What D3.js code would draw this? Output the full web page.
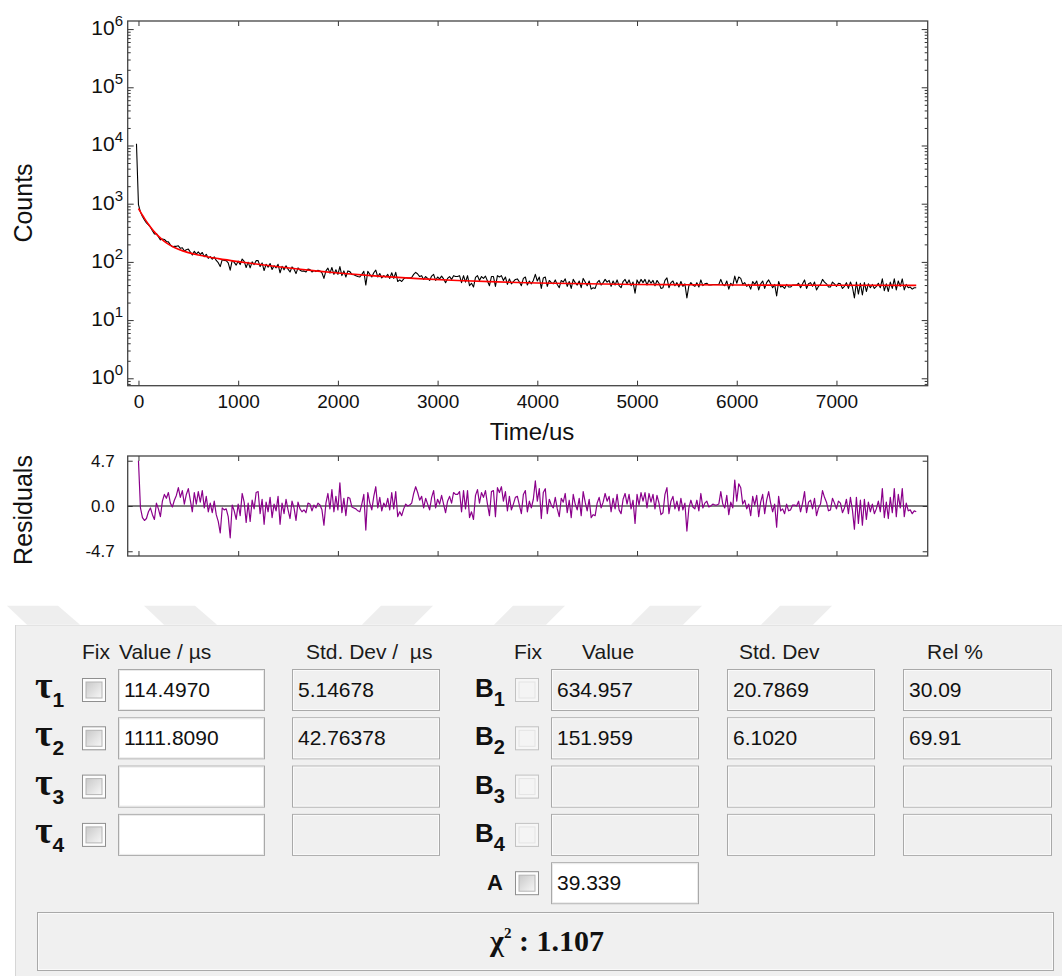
<!DOCTYPE html>
<html>
<head>
<meta charset="utf-8">
<script src="https://cdn.jsdelivr.net/npm/d3@7"></script>
<style>
  body { margin: 0; background: #fff; }
  svg { display: block; font-family: "Liberation Sans", Arial, sans-serif; }
</style>
</head>
<body>
<svg id="chart" width="1062" height="976"></svg>
<script>
// ---- Decay trace: one count value per 20 us channel, first channel at -20 us ----
const channelStart = -20;
const channelWidth = 20;
const counts = [10700,
  961,716,603,524,467,431,394,343,303,306,
  272,239,248,243,224,221,196,182,185,185,
  189,171,175,154,162,166,148,131,152,136,
  149,134,145,123,135,115,123,111,122,106,
  97,83,109,106,105,96,72,106,98,88,
  103,90,112,102,80,99,79,100,90,105,
  105,83,96,71,91,81,94,74,86,79,
  91,65,84,73,86,75,67,82,75,63,
  79,72,69,70,67,75,74,67,71,68,
  72,70,65,52,70,78,64,80,61,73,
  61,83,58,70,55,70,68,61,60,58,
  56,55,61,69,40,69,61,55,65,72,
  55,63,53,58,55,61,52,65,52,66,
  46,49,46,51,54,53,53,54,61,66,
  62,56,58,50,56,52,48,57,61,48,
  55,51,57,51,44,52,56,50,58,56,
  56,58,44,58,45,58,39,43,37,54,
  58,48,56,52,57,47,39,56,56,38,
  58,55,58,48,55,41,51,42,46,50,
  51,45,39,52,55,40,47,42,48,61,
  47,55,35,53,55,38,48,44,42,49,
  41,36,48,45,51,38,46,35,50,44,
  40,47,36,52,45,39,47,34,36,35,
  44,48,40,44,50,45,48,38,47,40,
  49,39,36,46,50,42,49,39,45,29,
  49,42,50,44,50,40,49,43,48,39,
  48,43,35,36,48,53,36,44,47,39,
  44,37,46,38,42,24,39,44,40,38,
  44,37,49,39,42,43,40,40,41,41,
  41,41,50,41,39,47,34,43,39,57,
  43,55,52,41,44,38,41,34,46,41,
  47,33,42,47,35,44,49,42,36,41,
  26,46,37,38,35,41,37,37,40,40,
  40,43,36,42,49,35,42,44,38,45,
  33,38,41,50,45,42,37,37,45,42,
  38,43,42,35,38,44,35,45,37,24,
  45,28,43,27,44,31,42,36,41,35,
  38,43,36,51,32,42,31,45,35,51,
  33,47,38,51,33,41,36,37,34,36,
  36];

// ---- Fitted decay (red curve), sampled along the time axis ----
const fitTimes  = [0,20,40,60,80,100,120,140,160,180,200,240,280,320,360,400,500,600,700,800,
                   1000,1200,1400,1600,1800,2000,2400,2800,3200,3600,4000,4500,5000,5500,6000,7000,7800];
const fitCounts = [826.3,721.8,633.6,559.2,496.5,443.3,398.4,360.2,328.0,300.4,276.9,239.8,212.5,192.1,176.6,164.7,144.3,131.3,121.7,113.9,
                   101.2,91.0,82.5,75.4,69.4,64.5,56.9,51.6,47.9,45.3,43.5,42.0,41.0,40.4,40.0,39.6,39.5];

// ---- Weighted residuals, one per channel from 0 us ----
const residualStart = 0;
const residuals = [
  4.7,-0.2,-1.2,-1.5,-1.3,-0.6,-0.2,-0.9,-1.4,0.3,
  -0.3,-1.1,0.5,1.2,0.8,1.4,0.3,-0.1,0.6,1.1,
  1.9,0.9,1.6,0.2,1.2,1.8,0.6,-0.6,1.4,0.2,
  1.5,0.4,1.6,-0.2,1.0,-0.6,0.3,-0.7,0.5,-0.9,
  -1.6,-2.8,-0.2,-0.4,-0.3,-1.1,-3.3,0.1,-0.5,-1.4,
  0.2,-1.0,1.3,0.4,-1.7,0.3,-1.6,0.6,-0.3,1.4,
  1.5,-0.8,0.7,-1.9,0.4,-0.6,0.9,-1.2,0.2,-0.5,
  1.0,-1.9,0.3,-0.8,0.7,-0.4,-1.3,0.5,-0.2,-1.5,
  0.4,-0.3,-0.6,-0.4,-0.7,0.3,0.2,-0.5,0.1,-0.2,
  0.3,0.1,-0.4,-2.0,0.3,1.3,-0.3,1.7,-0.6,1.0,
  -0.4,2.4,-0.7,0.8,-1.0,0.9,0.8,-0.1,-0.2,-0.3,
  -0.5,-0.6,0.2,1.2,-2.5,1.4,0.3,-0.4,1.0,2.0,
  -0.2,0.9,-0.5,0.3,-0.1,0.8,-0.4,1.4,-0.3,1.5,
  -1.1,-0.6,-1.0,-0.3,0.2,0.0,0.1,0.3,1.3,2.0,
  1.4,0.6,1.0,-0.2,0.8,0.2,-0.4,0.9,1.6,-0.2,
  0.7,0.2,1.1,0.2,-0.7,0.5,1.0,0.3,1.4,1.2,
  1.2,1.5,-0.6,1.6,-0.3,1.6,-1.2,-0.6,-1.4,1.1,
  1.7,0.3,1.4,0.9,1.6,0.2,-1.0,1.5,1.6,-1.1,
  1.9,1.4,2.0,0.5,1.5,-0.5,1.0,-0.4,0.2,0.9,
  1.0,0.1,-0.8,1.2,1.6,-0.6,0.5,-0.2,0.7,2.6,
  0.5,1.8,-1.3,1.4,1.8,-0.8,0.7,0.1,-0.2,0.9,
  -0.3,-1.1,0.8,0.4,1.3,-0.7,0.6,-1.2,1.2,0.2,
  -0.4,0.8,-1.0,1.5,0.4,-0.5,0.7,-1.2,-0.9,-1.0,
  0.3,0.9,-0.2,0.4,1.3,0.5,1.0,-0.6,0.8,-0.3,
  1.2,-0.4,-0.8,0.7,1.3,0.2,1.2,-0.3,0.6,-1.8,
  1.2,0.1,1.4,0.5,1.4,-0.2,1.3,0.4,1.2,-0.3,
  1.1,0.3,-0.9,-0.7,1.2,1.9,-0.8,0.5,1.0,-0.3,
  0.5,-0.5,0.8,-0.4,0.3,-2.6,-0.2,0.6,-0.1,-0.3,
  0.6,-0.5,1.3,-0.2,0.3,0.5,-0.1,0.0,0.2,0.1,
  0.1,0.2,1.5,0.2,-0.2,1.1,-0.9,0.4,-0.2,2.7,
  0.5,2.3,1.9,0.2,0.6,-0.3,0.2,-1.0,1.0,0.1,
  1.1,-1.1,0.4,1.2,-0.8,0.6,1.5,0.3,-0.6,0.2,
  -2.2,1.0,-0.5,-0.3,-0.8,0.2,-0.5,-0.4,0.1,0.1,
  0.0,0.5,-0.6,0.3,1.5,-0.7,0.4,0.6,-0.3,0.8,
  -1.0,-0.2,0.2,1.6,0.9,0.4,-0.5,-0.4,0.8,0.3,
  -0.3,0.5,0.3,-0.7,-0.2,0.7,-0.8,0.9,-0.4,-2.4,
  0.9,-1.8,0.6,-2.0,0.7,-1.4,0.4,-0.6,0.2,-0.8,
  -0.3,0.5,-0.6,1.8,-1.2,0.4,-1.3,0.9,-0.7,1.8,
  -1.1,1.2,-0.2,1.8,-1.1,0.3,-0.5,-0.4,-0.8,-0.5,
  -0.6];

// ---- Axis ticks ----
const xTicks = [0,1000,2000,3000,4000,5000,6000,7000];
const yDecades = [0,1,2,3,4,5,6];
const residualTicks = [-4.7, 0, 4.7];

// ---- Fit parameter table ----
const tauIndex   = ["1","2","3","4"];
const tauValues  = ["114.4970","1111.8090","",""];
const tauStdDev  = ["5.14678","42.76378","",""];
const ampValues  = ["634.957","151.959","",""];
const ampStdDev  = ["20.7869","6.1020","",""];
const relPercent = ["30.09","69.91","",""];
const offsetA    = "39.339";
const chiSquare  = "1.107";

// ================= layout =================
const svg = d3.select("#chart");
const plot  = { left: 127.7, right: 927.7, top: 21, bottom: 385.7 };
const resid = { top: 456, bottom: 556 };

const x  = d3.scaleLinear().domain([-108, 7915]).range([plot.left, plot.right]);
const y  = d3.scaleLog().domain([0.746, 1.377e6]).range([plot.bottom, plot.top]);
const yr = d3.scaleLinear().domain([-5.19, 5.19]).range([resid.bottom, resid.top]);

const majorY = yDecades.map(p => Math.pow(10, p));
const minorY = [];
for (let p = -1; p < 6; p++) {
  for (let m = 2; m <= 9; m++) {
    const v = m * Math.pow(10, p);
    if (v >= y.domain()[0] && v <= y.domain()[1]) minorY.push(v);
  }
}

function tidy(g) {
  g.select(".domain").remove();
  g.selectAll(".tick line").attr("stroke", "#333").attr("stroke-width", 1);
}

const defs = svg.append("defs");
defs.append("clipPath").attr("id", "clipTop")
  .append("rect").attr("x", plot.left).attr("y", plot.top)
  .attr("width", plot.right - plot.left).attr("height", plot.bottom - plot.top);
defs.append("clipPath").attr("id", "clipRes")
  .append("rect").attr("x", plot.left).attr("y", resid.top)
  .attr("width", plot.right - plot.left).attr("height", resid.bottom - resid.top);

// ---------- decay panel ----------
const decay = svg.append("g");

const countLine = d3.line()
  .x((d, i) => x(channelStart + i * channelWidth))
  .y(d => y(d));
decay.append("path").datum(counts)
  .attr("clip-path", "url(#clipTop)")
  .attr("d", countLine).attr("fill", "none")
  .attr("stroke", "#000").attr("stroke-width", 1.1).attr("stroke-linejoin", "round");

const fitLine = d3.line().curve(d3.curveMonotoneX)
  .x((d, i) => x(fitTimes[i]))
  .y(d => y(d));
decay.append("path").datum(fitCounts)
  .attr("clip-path", "url(#clipTop)")
  .attr("d", fitLine).attr("fill", "none")
  .attr("stroke", "#ff0000").attr("stroke-width", 1.6);

// ticks (all pointing inward)
decay.append("g").attr("transform", `translate(${plot.left},0)`)
  .call(d3.axisLeft(y).tickValues(majorY).tickSize(-6).tickFormat("")).call(tidy);
decay.append("g").attr("transform", `translate(${plot.left},0)`)
  .call(d3.axisLeft(y).tickValues(minorY).tickSize(-3).tickFormat("")).call(tidy);
decay.append("g").attr("transform", `translate(${plot.right},0)`)
  .call(d3.axisRight(y).tickValues(majorY).tickSize(-6).tickFormat("")).call(tidy);
decay.append("g").attr("transform", `translate(${plot.right},0)`)
  .call(d3.axisRight(y).tickValues(minorY).tickSize(-3).tickFormat("")).call(tidy);
decay.append("g").attr("transform", `translate(0,${plot.top})`)
  .call(d3.axisTop(x).tickValues(xTicks).tickSize(-5).tickFormat("")).call(tidy);
const xAxis = decay.append("g").attr("transform", `translate(0,${plot.bottom})`)
  .call(d3.axisBottom(x).tickValues(xTicks).tickSize(-5).tickPadding(9).tickFormat(d3.format("d")))
  .call(tidy);
xAxis.selectAll("text").attr("font-size", 19).attr("fill", "#111")
  .attr("font-family", "'Liberation Sans', Arial, sans-serif");

// frame
decay.append("rect").attr("x", plot.left).attr("y", plot.top)
  .attr("width", plot.right - plot.left).attr("height", plot.bottom - plot.top)
  .attr("fill", "none").attr("stroke", "#444").attr("stroke-width", 1.3);

// decade labels 10^n
const yLab = decay.append("g").attr("font-size", 21).attr("fill", "#111");
majorY.forEach((v, i) => {
  const t = yLab.append("text").attr("x", 123).attr("y", y(v) + 6).attr("text-anchor", "end");
  t.append("tspan").text("10");
  t.append("tspan").attr("font-size", 15).attr("dy", -9).text(String(yDecades[i]));
});

svg.append("text").attr("transform", "translate(32,203) rotate(-90)")
  .attr("text-anchor", "middle").attr("font-size", 25).attr("fill", "#111").text("Counts");
svg.append("text").attr("x", 532).attr("y", 440)
  .attr("text-anchor", "middle").attr("font-size", 24).attr("fill", "#111").text("Time/us");

// ---------- residual panel ----------
const rp = svg.append("g");
rp.append("line").attr("x1", plot.left).attr("x2", plot.right)
  .attr("y1", yr(0)).attr("y2", yr(0)).attr("stroke", "#000").attr("stroke-width", 1.1);

const residLine = d3.line()
  .x((d, i) => x(residualStart + i * channelWidth))
  .y(d => yr(d));
rp.append("path").datum(residuals)
  .attr("clip-path", "url(#clipRes)")
  .attr("d", residLine).attr("fill", "none")
  .attr("stroke", "#8b008b").attr("stroke-width", 1.2).attr("stroke-linejoin", "round");

const rAxis = rp.append("g").attr("transform", `translate(${plot.left},0)`)
  .call(d3.axisLeft(yr).tickValues(residualTicks).tickSize(-5).tickPadding(13)
    .tickFormat(d => d.toFixed(1)))
  .call(tidy);
rAxis.selectAll("text").attr("font-size", 17).attr("fill", "#111")
  .attr("font-family", "'Liberation Sans', Arial, sans-serif");
rp.append("g").attr("transform", `translate(${plot.right},0)`)
  .call(d3.axisRight(yr).tickValues(residualTicks).tickSize(-5).tickFormat("")).call(tidy);
rp.append("g").attr("transform", `translate(0,${resid.top})`)
  .call(d3.axisTop(x).tickValues(xTicks).tickSize(-5).tickFormat("")).call(tidy);
rp.append("g").attr("transform", `translate(0,${resid.bottom})`)
  .call(d3.axisBottom(x).tickValues(xTicks).tickSize(-5).tickFormat("")).call(tidy);
rp.append("rect").attr("x", plot.left).attr("y", resid.top)
  .attr("width", plot.right - plot.left).attr("height", resid.bottom - resid.top)
  .attr("fill", "none").attr("stroke", "#444").attr("stroke-width", 1.3);

svg.append("text").attr("transform", "translate(32,510) rotate(-90)")
  .attr("text-anchor", "middle").attr("font-size", 25).attr("fill", "#111").text("Residuals");

// ---------- fit parameter panel ----------
const tb = svg.append("g");

// faint chevron band above the panel
const bandTop = 605.7, bandBottom = 624.7;
[7, 144].forEach(x0 => {
  tb.append("polygon").attr("fill", "#eeeeee")
    .attr("points", [[x0, bandTop], [x0 + 51, bandTop], [x0 + 73, bandBottom], [x0 + 20, bandBottom]].join(" "));
});
[381, 513, 650, 780].forEach(x0 => {
  tb.append("polygon").attr("fill", "#eeeeee")
    .attr("points", [[x0, bandTop], [x0 + 52, bandTop], [x0 + 33, bandBottom], [x0 - 19, bandBottom]].join(" "));
});

tb.append("rect").attr("x", 15).attr("y", 625).attr("width", 1047).attr("height", 351).attr("fill", "#f0f0f0");
tb.append("line").attr("x1", 15).attr("x2", 1062).attr("y1", 625.5).attr("y2", 625.5).attr("stroke", "#e3e3e3");
tb.append("line").attr("x1", 15.5).attr("x2", 15.5).attr("y1", 625).attr("y2", 976).attr("stroke", "#d6d6d6");

const grad = defs.append("linearGradient").attr("id", "chk")
  .attr("x1", 0).attr("y1", 0).attr("x2", 1).attr("y2", 1);
grad.append("stop").attr("offset", "0%").attr("stop-color", "#c9c9c9");
grad.append("stop").attr("offset", "100%").attr("stop-color", "#f7f7f7");

const headY = 659;
const head = tb.append("g").attr("font-size", 21).attr("fill", "#1a1a1a");
[["Fix", 82], ["Value / µs", 119], ["Std. Dev /\u00a0 µs", 306],
 ["Fix", 514], ["Value", 582], ["Std. Dev", 739], ["Rel %", 927]]
  .forEach(([s, xx]) => head.append("text").attr("x", xx).attr("y", headY).text(s));

function field(xx, yy, w, fill, txt) {
  const h = 41;
  tb.append("rect").attr("x", xx + 0.5).attr("y", yy + 0.5).attr("width", w).attr("height", h)
    .attr("fill", fill).attr("stroke", "#a9a9a9");
  tb.append("rect").attr("x", xx + 1.5).attr("y", yy + 1.5).attr("width", w - 2).attr("height", h - 2)
    .attr("fill", "none").attr("stroke", fill === "#ffffff" ? "#e9e9e9" : "#fafafa");
  if (txt) tb.append("text").attr("x", xx + 6).attr("y", yy + h / 2 + 7.5)
    .attr("font-size", 21).attr("fill", "#111").text(txt);
}
function checkbox(xx, yy, enabled) {
  tb.append("rect").attr("x", xx + 0.5).attr("y", yy + 0.5).attr("width", 23).attr("height", 23)
    .attr("fill", enabled ? "#fdfdfd" : "#f6f6f6").attr("stroke", enabled ? "#8f8f8f" : "#c2c2c2");
  tb.append("rect").attr("x", xx + 4).attr("y", yy + 4).attr("width", 16).attr("height", 16)
    .attr("fill", enabled ? "url(#chk)" : "#f4f4f4").attr("stroke", enabled ? "#b5b5b5" : "#e4e4e4");
}

const rowTop = i => 669 + i * 48.3;
tauIndex.forEach((k, i) => {
  const r = rowTop(i);
  const tl = tb.append("text").attr("x", 35).attr("y", r + 29).attr("fill", "#111");
  tl.append("tspan").attr("font-family", "'Liberation Serif', 'Times New Roman', serif")
    .attr("font-weight", "bold").attr("font-size", 38).text("τ");
  tl.append("tspan").attr("font-weight", "bold").attr("font-size", 21).attr("dy", 9).text(k);
  checkbox(82, r + 9, true);
  field(118, r, 146, "#ffffff", tauValues[i]);
  field(292, r, 147, "#f0f0f0", tauStdDev[i]);

  const bl = tb.append("text").attr("x", 475).attr("y", r + 28).attr("fill", "#111").attr("font-weight", "bold");
  bl.append("tspan").attr("font-size", 26).text("B");
  bl.append("tspan").attr("font-size", 20).attr("dy", 9).text(k);
  checkbox(515, r + 9, false);
  field(551, r, 147, "#f0f0f0", ampValues[i]);
  field(727, r, 147, "#f0f0f0", ampStdDev[i]);
  field(903, r, 148, "#f0f0f0", relPercent[i]);
});

const ra = rowTop(4);
tb.append("text").attr("x", 487).attr("y", ra + 28).attr("font-weight", "bold")
  .attr("font-size", 22).attr("fill", "#111").text("A");
checkbox(515, ra + 9, true);
field(551, ra, 147, "#ffffff", offsetA);

// chi-square readout
tb.append("rect").attr("x", 37.5).attr("y", 912.5).attr("width", 1016).attr("height", 58)
  .attr("fill", "#f0f0f0").attr("stroke", "#a9a9a9");
tb.append("rect").attr("x", 38.5).attr("y", 913.5).attr("width", 1014).attr("height", 56)
  .attr("fill", "none").attr("stroke", "#fafafa");
const chi = tb.append("text").attr("x", 547).attr("y", 951).attr("text-anchor", "middle")
  .attr("font-family", "'Liberation Serif', 'Times New Roman', serif")
  .attr("font-weight", "bold").attr("font-size", 30).attr("fill", "#111");
chi.append("tspan").text("χ");
chi.append("tspan").attr("font-size", 15).attr("dy", -13).text("2");
chi.append("tspan").attr("dy", 13).text(" : " + chiSquare);
</script>
</body>
</html>
